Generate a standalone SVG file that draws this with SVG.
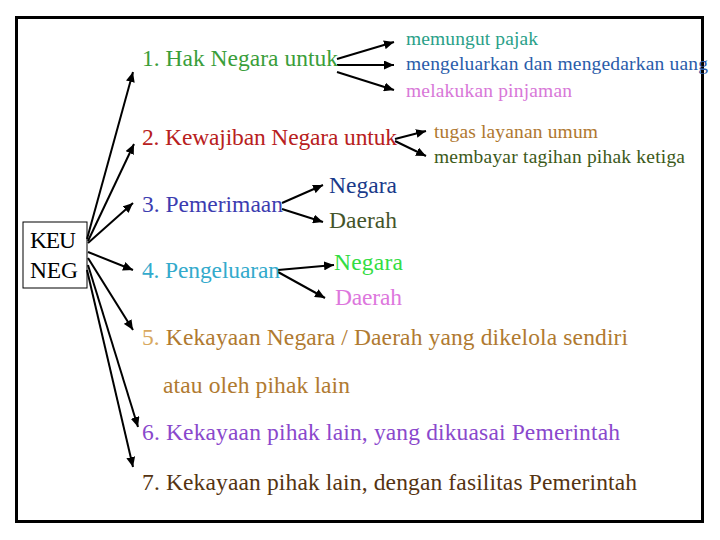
<svg xmlns="http://www.w3.org/2000/svg" width="720" height="540" viewBox="0 0 720 540">
<style>
text{font-family:"Liberation Serif","Times New Roman",serif;}
.m{font-size:23.5px;}
.s{font-size:19.5px;}
.n{font-size:23.5px;}
.c{stroke:#000;stroke-width:2;fill:none;marker-end:url(#ah);}
</style>
<defs>
<marker id="ah" markerUnits="userSpaceOnUse" markerWidth="11" markerHeight="9" refX="10" refY="4.5" orient="auto">
<path d="M0,0 L10,4.5 L0,9 z" fill="#000"/>
</marker>
</defs>
<rect x="0" y="0" width="720" height="540" fill="#fff"/>
<rect id="frame" x="16.5" y="17.5" width="686" height="504" fill="none" stroke="#000" stroke-width="3"/>
<g id="keuneg">
<rect x="23" y="222" width="64" height="66" fill="#fff" stroke="#000" stroke-width="1"/>
<text x="30" y="248" class="n" textLength="46" fill="#000">KEU</text>
<text x="30" y="278" class="n" textLength="48" fill="#000">NEG</text>
</g>
<g id="connectors">
<path class="c" d="M87,239 L133,72"/>
<path class="c" d="M88,241 L134,144"/>
<path class="c" d="M88,243 L133,203"/>
<path class="c" d="M88,252 L133,270"/>
<path class="c" d="M88,258 L133,330"/>
<path class="c" d="M88,265 L138,427"/>
<path class="c" d="M87,270 L133,467"/>
<path class="c" d="M337,59 L394,42"/>
<path class="c" d="M337,65 L394,65"/>
<path class="c" d="M337,72 L394,90"/>
<path class="c" d="M395,139 L426,131"/>
<path class="c" d="M395,141 L426,156"/>
<path class="c" d="M282,203 L323,185"/>
<path class="c" d="M282,209 L323,222"/>
<path class="c" d="M278,270 L334,265"/>
<path class="c" d="M278,272 L325,298"/>
</g>
<g id="n1"><text x="142" y="66" class="m" textLength="196" fill="#3a9e3a">1. Hak Negara untuk</text></g>
<g id="n1a"><text x="406" y="45" class="s" textLength="132" fill="#2aa088">memungut pajak</text></g>
<g id="n1b"><text x="406" y="70" class="s" textLength="302" fill="#2a5caa">mengeluarkan dan mengedarkan uang</text></g>
<g id="n1c"><text x="406" y="97" class="s" textLength="166" fill="#d878d8">melakukan pinjaman</text></g>
<g id="n2"><text x="142" y="145" class="m" textLength="255" fill="#b82020">2. Kewajiban Negara untuk</text></g>
<g id="n2a"><text x="434" y="138" class="s" textLength="164" fill="#b07830">tugas layanan umum</text></g>
<g id="n2b"><text x="434" y="163" class="s" textLength="251" fill="#3d5a1a">membayar tagihan pihak ketiga</text></g>
<g id="n3"><text x="142" y="212" class="m" textLength="141" fill="#3c3cb0">3. Pemerimaan</text></g>
<g id="n3a"><text x="329" y="193" class="n" textLength="68" fill="#1a3a8a">Negara</text></g>
<g id="n3b"><text x="329" y="228" class="n" textLength="68" fill="#44552a">Daerah</text></g>
<g id="n4"><text x="142" y="278" class="m" textLength="138" fill="#33aacc">4. Pengeluaran</text></g>
<g id="n4a"><text x="334" y="270" class="n" textLength="69" fill="#33dd44">Negara</text></g>
<g id="n4b"><text x="335" y="305" class="n" textLength="67" fill="#dd77dd">Daerah</text></g>
<g id="n5">
<text x="142" y="345" class="m" textLength="486" fill="#b07a30"><tspan fill="#d8a860">5.</tspan> Kekayaan Negara / Daerah yang dikelola sendiri</text>
<text x="163" y="393" class="m" textLength="187" fill="#b07a30">atau oleh pihak lain</text>
</g>
<g id="n6"><text x="142" y="440" class="m" textLength="478" fill="#8a48cc">6. Kekayaan pihak lain, yang dikuasai Pemerintah</text></g>
<g id="n7"><text x="142" y="490" class="m" textLength="495" fill="#553311">7. Kekayaan pihak lain, dengan fasilitas Pemerintah</text></g>
</svg>
